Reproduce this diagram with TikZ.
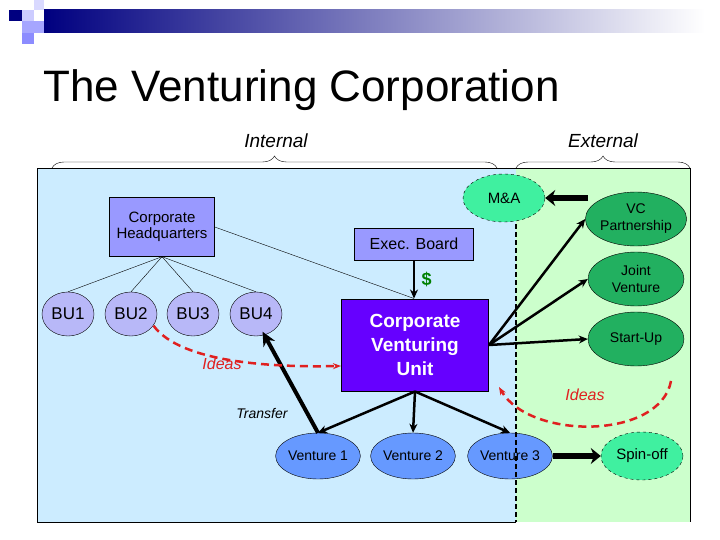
\documentclass[tikz,border=0pt]{standalone}
\usepackage{fontspec}
\setmainfont{Liberation Sans}
\usetikzlibrary{arrows.meta,positioning,shapes.geometric,decorations.pathreplacing}
\definecolor{intbg}{HTML}{CCECFF}
\definecolor{extbg}{HTML}{CCFFCC}
\definecolor{hqblue}{HTML}{9999FF}
\definecolor{cvublue}{HTML}{6600FF}
\definecolor{bublue}{HTML}{B8B8F8}
\definecolor{ventblue}{HTML}{6699FF}
\definecolor{extlight}{HTML}{40F0A0}
\definecolor{extdark}{HTML}{22B060}
\definecolor{ideared}{HTML}{E02020}
\tikzset{
  box/.style={draw,fill=hqblue,font=\fontsize{15}{16}\selectfont,align=center,inner sep=1pt},
  bu/.style={ellipse,draw,fill=bublue,minimum width=52pt,minimum height=44pt,inner sep=0pt,font=\fontsize{17}{18}\selectfont},
  venture/.style={ellipse,draw,fill=ventblue,minimum width=84pt,minimum height=46pt,inner sep=0pt,font=\fontsize{14}{16}\selectfont},
  extl/.style={ellipse,draw,dashed,fill=extlight,minimum width=82pt,minimum height=48pt,inner sep=0pt,font=\fontsize{15}{16}\selectfont,align=center},
  extd/.style={ellipse,draw,fill=extdark,minimum width=96pt,minimum height=54pt,inner sep=0pt,font=\fontsize{14}{17}\selectfont,align=center},
  flow/.style={-{Stealth[length=9pt,width=8pt]},line width=2.5pt},
  idea/.style={-{Stealth[length=8pt]},dashed,ideared,line width=2.5pt,dash pattern=on 8pt off 5pt},
}
\begin{document}
\begin{tikzpicture}[x=1pt,y=-1pt]
    \useasboundingbox (0,0) rectangle (720,540);

    % header bar
    \shade[left color=blue!50!black,right color=white] (44,10) rectangle (705,33);
    \fill[blue!50!black] (9,10) rectangle (22,21);
    \fill[blue!20] (22,10) rectangle (34,21);
    \fill[blue!35] (22,21) rectangle (44,33);
    \fill[blue!45] (22,33) rectangle (34,44);
    \fill[blue!15] (34,0) rectangle (44,10);
    \node[right,font=\fontsize{44}{48}\selectfont] (title) at (40,90) {The Venturing Corporation};

    % backgrounds
    \fill[intbg] (37,168) rectangle (516,522);
    \fill[extbg] (516,168) rectangle (690,522);
    \draw (516,522) -- (37,522) -- (37,168) -- (690,168) -- (690,522);

    % braces
    \draw[decorate,decoration={brace,amplitude=12pt}] (52,168) -- (497,168);
    \draw[decorate,decoration={brace,amplitude=12pt}] (516,168) -- (690,168);
    \node[font=\itshape\fontsize{19}{20}\selectfont] (intlabel) at (276,141) {Internal};
    \node[font=\itshape\fontsize{19}{20}\selectfont] (extlabel) at (603,141) {External};

    % nodes
    \node[box,minimum width=105pt,minimum height=59pt] (hq) at (162,227) {Corporate\\Headquarters};
    \node[box,minimum width=119pt,minimum height=32pt,font=\fontsize{16}{17}\selectfont] (board) at (414,244) {Exec. Board};
    \node[draw,fill=cvublue,text=white,font=\bfseries\fontsize{19}{24}\selectfont,align=center,minimum width=147pt,minimum height=92pt,line width=1pt] (cvu) at (415,345) {Corporate\\Venturing\\Unit};

    \node[bu] (bu1) at (68,314) {BU1};
    \node[bu] (bu2) at (131,314) {BU2};
    \node[bu] (bu3) at (193,314) {BU3};
    \node[bu] (bu4) at (256,314) {BU4};

    \node[venture] (v1) at (318,456) {Venture 1};
    \node[venture] (v2) at (413,456) {Venture 2};
    \node[venture] (v3) at (510,456) {Venture 3};

    \node[extl] (ma) at (504,198) {M\&A};
    \node[extd] (vc) at (636,219) {VC\\Partnership};
    \node[extd] (jv) at (636,279) {Joint\\Venture};
    \node[extd] (su) at (636,339) {Start-Up};
    \node[extl] (spin) at (642,456) {Spin-off};

    % border line
    \draw[dashed,line width=1.5pt,dash pattern=on 5pt off 3pt] (ma.south) ++(12,2) coordinate (b1) -- (b1 |- 0,522);

    % thin lines
    \foreach \to in {bu1,bu2,bu3,bu4}
    \draw (hq.south) -- (\to.north);
    \draw (hq.east) -- (cvu.north -| board.south);

    % arrows
    \draw[flow] (board) -- node[right=3pt,text=green!50!black,font=\bfseries\fontsize{18}{19}\selectfont] (dollar) {\$} (board.south |- cvu.north);
    \foreach \to in {vc,jv,su}
    \draw[flow] (cvu.east) -- (\to.west);
    \foreach \to in {v1,v2,v3}
    \draw[flow] (cvu.south) -- (\to.north);
    \draw[line width=4pt,{Stealth[length=14pt,width=13pt]}-] (bu4.south east) ++(-12,2) coordinate (t1) -- (v1.north);
    \node[font=\itshape\fontsize{14}{15}\selectfont] (transfer) at (262,413) {Transfer};
    \draw[line width=6pt,-{Stealth[length=10pt,width=16pt]}] (v3.east) -- (spin.west);
    \draw[line width=6pt,-{Stealth[length=10pt,width=16pt]}] (vc.west |- ma.east) ++(3,0) coordinate (m1) -- (ma.east);

    % ideas
    \draw[idea] (bu2.south east) ++(4,-4) coordinate (i1) .. controls (175,355) and (240,368) .. (cvu.west |- 0,366);
    \node[text=ideared,font=\itshape\fontsize{16}{17}\selectfont] (ideas1) at (222,364) {Ideas};
    \draw[idea] (671,381) coordinate (i2) .. controls (660,440) and (530,440) .. (499,387);
    \node[text=ideared,font=\itshape\fontsize{16}{17}\selectfont] (ideas2) at (585,395) {Ideas};
\end{tikzpicture}
\end{document}
